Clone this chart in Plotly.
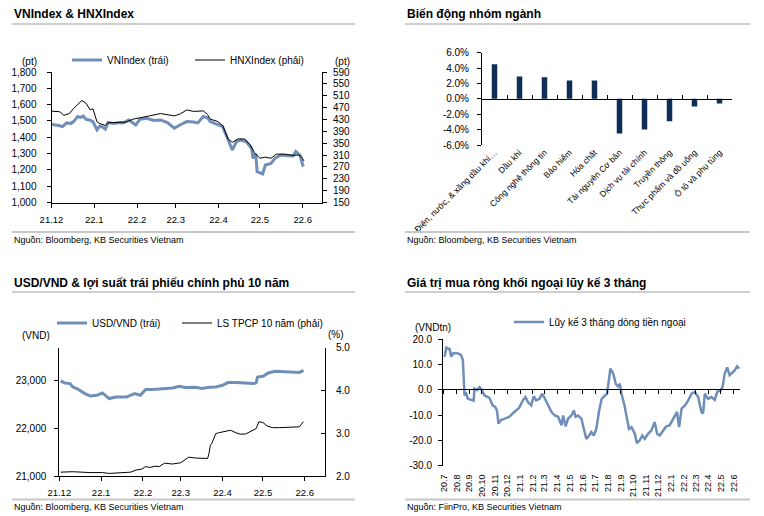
import plotly.graph_objects as go

# ---------------- data ----------------
# Panel 1: VNIndex (left) & HNXIndex (right)
vn_dates = ["2021-12-01","2021-12-03","2021-12-07","2021-12-09","2021-12-12","2021-12-15","2021-12-17",
            "2021-12-20","2021-12-22","2021-12-24","2021-12-26","2021-12-29","2021-12-31","2022-01-03",
            "2022-01-05","2022-01-07","2022-01-09","2022-01-11","2022-01-15","2022-01-20","2022-01-22",
            "2022-01-26","2022-01-31","2022-02-03","2022-02-08","2022-02-13","2022-02-18","2022-02-23",
            "2022-02-28","2022-03-04","2022-03-09","2022-03-14","2022-03-17","2022-03-21","2022-03-24",
            "2022-03-26","2022-03-31","2022-04-04","2022-04-08","2022-04-11","2022-04-14","2022-04-17",
            "2022-04-21","2022-04-25","2022-04-26","2022-04-28","2022-04-29","2022-05-03","2022-05-05",
            "2022-05-09","2022-05-12","2022-05-16","2022-05-21","2022-05-25","2022-05-27","2022-05-30",
            "2022-06-01","2022-06-02"]
vn_vals = [1480,1478,1470,1465,1488,1485,1496,1527,1522,1530,1510,1505,1496,1445,1469,1462,1450,1490,
           1484,1490,1488,1506,1475,1510,1516,1503,1506,1490,1455,1475,1496,1493,1488,1527,1520,1496,
           1476,1465,1383,1322,1373,1383,1373,1333,1271,1300,1189,1175,1230,1240,1271,1291,1286,1285,
           1312,1290,1230,1235]

hnx_dates = ["2021-12-01","2021-12-07","2021-12-10","2021-12-14","2021-12-17","2021-12-20","2021-12-23",
             "2021-12-26","2021-12-29","2021-12-31","2022-01-03","2022-01-05","2022-01-09","2022-01-11",
             "2022-01-17","2022-01-24","2022-01-29","2022-02-03","2022-02-10","2022-02-18","2022-02-23",
             "2022-02-28","2022-03-04","2022-03-09","2022-03-14","2022-03-18","2022-03-21","2022-03-24",
             "2022-03-26","2022-03-31","2022-04-04","2022-04-08","2022-04-11","2022-04-15","2022-04-20",
             "2022-04-24","2022-04-27","2022-05-01","2022-05-05","2022-05-09","2022-05-13","2022-05-19",
             "2022-05-25","2022-05-29","2022-05-31","2022-06-02"]
hnx_vals = [458,456,444,450,467,479,494,485,462,466,422,416,410,419,420,421,431,435,442,450,447,442,
            448,462,457,457,459,447,431,424,410,364,353,364,364,344,318,299,303,299,313,313,309,310,
            305,290]

# Panel 2: sector performance
sectors = ["Điện, nước, & xăng dầu khí…", "Dầu khí", "Công nghệ thông tin", "Bảo hiểm", "Hóa chất",
           "Tài nguyên Cơ bản", "Dịch vụ tài chính", "Truyền thông", "Thực phẩm và đồ uống",
           "Ô tô và phụ tùng"]
sector_chg = [4.5, 2.9, 2.8, 2.4, 2.4, -4.5, -4.0, -2.9, -1.0, -0.6]
pct_ticks = [-6, -4, -2, 0, 2, 4, 6]
pct_labels = ["-6.0%", "-4.0%", "-2.0%", "0.0%", "2.0%", "4.0%", "6.0%"]

# Panel 3: USD/VND (left) & 10y government bond yield (right)
usd_dates = ["2021-12-02","2021-12-05","2021-12-09","2021-12-11","2021-12-14","2021-12-16","2021-12-20",
             "2021-12-24","2021-12-29","2022-01-02","2022-01-05","2022-01-07","2022-01-12","2022-01-20",
             "2022-01-23","2022-01-26","2022-01-30","2022-02-01","2022-02-03","2022-02-08","2022-02-16",
             "2022-02-23","2022-02-28","2022-03-05","2022-03-12","2022-03-17","2022-03-22","2022-03-27",
             "2022-04-01","2022-04-05","2022-04-11","2022-04-18","2022-04-24","2022-04-26","2022-04-27",
             "2022-05-01","2022-05-05","2022-05-10","2022-05-18","2022-05-25","2022-05-28","2022-05-31"]
usd_vals = [23000,22958,22945,22874,22840,22805,22735,22685,22700,22748,22664,22630,22664,22664,22700,
            22735,22700,22755,22818,22818,22832,22853,22888,22860,22867,22840,22867,22874,22910,22966,
            22966,22960,22945,22960,23084,23100,23168,23203,23196,23189,23180,23224]

bond_dates = ["2021-12-02","2021-12-11","2021-12-24","2022-01-02","2022-01-07","2022-01-14","2022-01-23",
              "2022-01-27","2022-01-31","2022-02-03","2022-02-06","2022-02-10","2022-02-13","2022-02-17",
              "2022-02-23","2022-03-01","2022-03-04","2022-03-07","2022-03-12","2022-03-17","2022-03-21",
              "2022-03-22","2022-03-23","2022-03-24","2022-03-27","2022-03-29","2022-04-02","2022-04-07",
              "2022-04-11","2022-04-14","2022-04-18","2022-04-23","2022-04-26","2022-04-28","2022-05-01",
              "2022-05-04","2022-05-08","2022-05-13","2022-05-20","2022-05-28","2022-05-31"]
bond_vals = [2.09,2.10,2.08,2.08,2.06,2.07,2.09,2.14,2.16,2.22,2.20,2.23,2.22,2.30,2.28,2.31,2.37,2.44,
             2.42,2.41,2.41,2.53,2.72,2.76,2.99,3.01,3.03,3.07,3.01,2.98,2.98,3.07,3.11,3.27,3.25,3.17,
             3.13,3.13,3.14,3.15,3.27]

# Panel 4: 3-month cumulative foreign net buying
flow_dates = ["2020-07-03","2020-07-07","2020-07-15","2020-07-19","2020-07-23","2020-07-31","2020-08-08",
              "2020-08-12","2020-08-16","2020-08-20","2020-08-24","2020-08-28","2020-09-05","2020-09-11",
              "2020-09-13","2020-09-19","2020-09-25","2020-09-29","2020-10-07","2020-10-19","2020-10-27",
              "2020-11-02","2020-11-06","2020-11-10","2020-11-16","2020-11-26","2020-12-06","2020-12-18",
              "2020-12-30","2021-01-08","2021-01-14","2021-01-20","2021-01-28","2021-02-03","2021-02-09",
              "2021-02-17","2021-02-23","2021-03-01","2021-03-10","2021-03-18","2021-03-26","2021-04-03",
              "2021-04-11","2021-04-15","2021-04-21","2021-04-27","2021-05-05","2021-05-11","2021-05-15",
              "2021-05-21","2021-05-29","2021-06-04","2021-06-10","2021-06-17","2021-06-22","2021-06-28",
              "2021-07-04","2021-07-11","2021-07-17","2021-07-25","2021-07-30","2021-08-04","2021-08-07",
              "2021-08-14","2021-08-20","2021-08-26","2021-08-30","2021-09-03","2021-09-11","2021-09-16",
              "2021-09-21","2021-09-27","2021-10-05","2021-10-10","2021-10-17","2021-10-23","2021-10-29",
              "2021-11-06","2021-11-14","2021-11-22","2021-11-28","2021-12-04","2021-12-12","2021-12-20",
              "2021-12-28","2022-01-04","2022-01-10","2022-01-15","2022-01-20","2022-01-26","2022-02-03",
              "2022-02-11","2022-02-19","2022-02-27","2022-03-07","2022-03-15","2022-03-19","2022-03-23",
              "2022-03-31","2022-04-08","2022-04-16","2022-04-22","2022-04-30","2022-05-05","2022-05-10",
              "2022-05-16","2022-05-22","2022-05-29","2022-06-03","2022-06-09","2022-06-14"]
flow_vals = [13.0,16.6,16.0,13.0,14.3,14.5,14.0,13.6,11.6,-2.2,-1.6,-3.6,-4.0,-4.3,0.4,-0.2,1.0,0.4,
             -2.2,-3.2,-6.2,-6.8,-8.1,-13.4,-12.0,-11.4,-10.7,-8.8,-7.1,-4.2,-2.9,-4.9,-6.2,-2.6,-4.2,
             -3.6,-1.6,-3.2,-6.2,-8.8,-10.2,-10.7,-14.1,-10.2,-14.5,-11.4,-10.2,-8.2,-10.7,-10.2,-11.4,
             -16.1,-19.4,-18.1,-16.7,-18.1,-15.5,-8.2,-3.6,-2.3,-1.6,4.3,8.3,6.3,2.4,1.0,2.4,-1.6,-6.8,
             -11.4,-15.5,-14.8,-17.4,-21.1,-20.0,-18.1,-19.4,-17.4,-16.1,-12.8,-17.4,-18.1,-16.1,-14.5,
             -14.1,-12.1,-10.7,-8.8,-14.8,-7.5,-6.2,-4.2,-1.6,-0.9,-2.9,-8.8,-9.4,-1.6,-3.6,-2.9,-4.0,
             -0.9,-0.2,1.0,6.3,8.8,5.7,7.0,7.6,9.2,8.3]
flow_ticks = [-30, -20, -10, 0, 10, 20]
flow_labels = ["-30.0", "-20.0", "-10.0", "0.0", "10.0", "20.0"]

# ---------------- styling ----------------
W, H = 764, 516
FONT = "Liberation Sans"
BLUE = "#6F8EB8"
NAVY = "#0E2E58"


def fx(p):
    return p / W


def fy(p):
    return 1 - p / H


base = dict(showgrid=False, zeroline=False, showline=True, linecolor="black", linewidth=1,
            ticks="outside", ticklen=4, tickcolor="black", tickwidth=1, automargin=False,
            tickfont=dict(family=FONT, size=10, color="black"))

fig = go.Figure()

# panel 1
fig.add_trace(go.Scatter(x=vn_dates, y=vn_vals, name="VNIndex (trái)", mode="lines",
                         line=dict(color=BLUE, width=3), xaxis="x", yaxis="y", legend="legend"))
fig.add_trace(go.Scatter(x=hnx_dates, y=hnx_vals, name="HNXIndex (phải)", mode="lines",
                         line=dict(color="black", width=1), xaxis="x", yaxis="y2", legend="legend4"))
# panel 2
fig.add_trace(go.Bar(x=sectors, y=sector_chg, marker=dict(color=NAVY, line=dict(width=0)), width=0.22,
                     xaxis="x2", yaxis="y3", showlegend=False))
fig.add_trace(go.Scatter(x=sectors, y=[None] * len(sectors), mode="lines", xaxis="x3", yaxis="y3",
                         showlegend=False, hoverinfo="skip"))
# panel 3
fig.add_trace(go.Scatter(x=usd_dates, y=usd_vals, name="USD/VND (trái)", mode="lines",
                         line=dict(color=BLUE, width=3), xaxis="x4", yaxis="y4", legend="legend2"))
fig.add_trace(go.Scatter(x=bond_dates, y=bond_vals, name="LS TPCP 10 năm (phải)", mode="lines",
                         line=dict(color="black", width=1), xaxis="x4", yaxis="y5", legend="legend5"))
# panel 4
fig.add_trace(go.Scatter(x=flow_dates, y=flow_vals, name="Lũy kế 3 tháng dòng tiền ngoại", mode="lines",
                         line=dict(color=BLUE, width=2.5), xaxis="x5", yaxis="y6", legend="legend3"))
fig.add_trace(go.Scatter(x=flow_dates, y=[None] * len(flow_dates), mode="lines", xaxis="x6", yaxis="y6",
                         showlegend=False, hoverinfo="skip"))

xfont = dict(family=FONT, size=9.5, color="black")


def leg(x, y):
    return dict(x=fx(x), y=fy(y), xanchor="left", yanchor="middle", orientation="h",
                bgcolor="rgba(0,0,0,0)", font=dict(family=FONT, size=10, color="black"))


layout = dict(
    width=W, height=H, autosize=False, margin=dict(l=0, r=0, t=0, b=0, autoexpand=False),
    paper_bgcolor="white", plot_bgcolor="rgba(0,0,0,0)",
    font=dict(family=FONT, size=10, color="black"),
    hovermode=False,
    # panel 1
    xaxis={**base, "domain": [fx(51.5), fx(322)], "anchor": "y", "type": "date",
           "range": ["2021-12-01", "2022-06-15"], "dtick": "M1", "tick0": "2021-12-01",
           "tickformat": "%y.%-m", "tickfont": xfont, "ticklabelstandoff": 4},
    yaxis={**base, "domain": [fy(202.5), fy(72)], "anchor": "x", "range": [1000, 1800],
           "dtick": 100, "tickformat": ",", "ticklabelstandoff": 8},
    yaxis2={**base, "overlaying": "y", "side": "right", "anchor": "x", "range": [150, 590],
            "tick0": 150, "dtick": 40, "ticklabelstandoff": 4},
    # panel 2
    xaxis2={**base, "domain": [fx(482), fx(732)], "anchor": "y3", "type": "category",
            "range": [-0.5, 9.5], "showline": False, "ticks": "", "tickangle": -45,
            "tickfont": dict(family=FONT, size=8.5, color="black")},
    xaxis3={**base, "overlaying": "x2", "anchor": "free", "position": fy(98.9), "type": "category",
            "range": [-0.5, 9.5], "ticks": "inside", "tickson": "boundaries", "ticklen": 4,
            "showticklabels": False},
    yaxis3={**base, "domain": [fy(145), fy(52.7)], "anchor": "x2", "range": [-6, 6],
            "tickvals": pct_ticks, "ticktext": pct_labels, "ticklabelstandoff": 6},
    # panel 3
    xaxis4={**base, "domain": [fx(59.3), fx(325)], "anchor": "y4", "type": "date",
            "range": ["2021-12-01", "2022-06-16"], "dtick": "M1", "tick0": "2021-12-01",
            "tickformat": "%y.%-m", "tickfont": xfont, "ticklabelstandoff": 4},
    yaxis4={**base, "domain": [fy(476), fy(347.7)], "anchor": "x4", "range": [21000, 23700],
            "tickvals": [21000, 22000, 23000], "tickformat": ",", "ticklabelstandoff": 6},
    yaxis5={**base, "overlaying": "y4", "side": "right", "anchor": "x4", "range": [2, 5],
            "dtick": 1, "tickformat": ".1f", "ticks": "inside", "ticklabelstandoff": 8},
    # panel 4
    xaxis5={**base, "domain": [fx(443), fx(740)], "anchor": "y6", "type": "date",
            "range": ["2020-06-29", "2022-06-16"], "dtick": "M1", "tick0": "2020-07-01",
            "tickformat": "%y.%-m", "tickangle": -90, "showline": False, "ticks": "",
            "tickfont": dict(family=FONT, size=9, color="black"), "ticklabelstandoff": 6},
    xaxis6={**base, "overlaying": "x5", "anchor": "free", "position": fy(389.3), "type": "date",
            "range": ["2020-06-29", "2022-06-16"], "dtick": "M1", "tick0": "2020-07-01",
            "showticklabels": False},
    yaxis6={**base, "domain": [fy(465.7), fy(339)], "anchor": "x5", "range": [-30, 20],
            "tickvals": flow_ticks, "ticktext": flow_labels, "ticklabelstandoff": 4},
    legend=leg(67, 60),
    legend4=leg(190, 60),
    legend2=leg(52, 323),
    legend5=leg(177, 323),
    legend3=leg(509, 322),
)
fig.update_layout(**layout)

# titles, sources, units
titles = [("VNIndex & HNXIndex", 12, 14), ("Biến động nhóm ngành", 405, 14),
          ("USD/VND & lợi suất trái phiếu chính phủ 10 năm", 12, 283),
          ("Giá trị mua ròng khối ngoại lũy kế 3 tháng", 405, 283)]
sources = [("Nguồn: Bloomberg, KB Securities Vietnam", 12, 240),
           ("Nguồn: Bloomberg, KB Securities Vietnam", 405, 240),
           ("Nguồn: Bloomberg, KB Securities Vietnam", 12, 507),
           ("Nguồn: FiinPro, KB Securities Vietnam", 405, 507)]
units = [("(pt)", 20, 62), ("(pt)", 333, 62), ("(VND)", 20, 335), ("(%)", 326, 334), ("(VNDtn)", 413, 327)]

ann = []
for t, x, y in titles:
    ann.append(dict(text="<b>" + t + "</b>", x=fx(x), y=fy(y), xref="paper", yref="paper",
                    xanchor="left", yanchor="middle", showarrow=False,
                    font=dict(family=FONT, size=12, color="black")))
for t, x, y in sources:
    ann.append(dict(text=t, x=fx(x), y=fy(y), xref="paper", yref="paper",
                    xanchor="left", yanchor="middle", showarrow=False,
                    font=dict(family=FONT, size=9, color="black")))
for t, x, y in units:
    ann.append(dict(text=t, x=fx(x), y=fy(y), xref="paper", yref="paper",
                    xanchor="left", yanchor="middle", showarrow=False,
                    font=dict(family=FONT, size=10, color="black")))
fig.update_layout(annotations=ann)

shapes = []
for (x0, x1, y, c, w) in [(12, 355, 24, "#a0a0a0", 1.2), (405, 750, 24, "#a0a0a0", 1.2),
                          (12, 355, 292, "#a0a0a0", 1.2), (405, 750, 292, "#a0a0a0", 1.2),
                          (12, 355, 232, "#c8c8c8", 2), (405, 750, 232, "#c8c8c8", 2),
                          (12, 355, 499.5, "#c8c8c8", 2), (405, 750, 499.5, "#c8c8c8", 2)]:
    shapes.append(dict(type="line", xref="paper", yref="paper", x0=fx(x0), x1=fx(x1),
                       y0=fy(y), y1=fy(y), line=dict(color=c, width=w)))
fig.update_layout(shapes=shapes)

fig.write_html("out.html")
